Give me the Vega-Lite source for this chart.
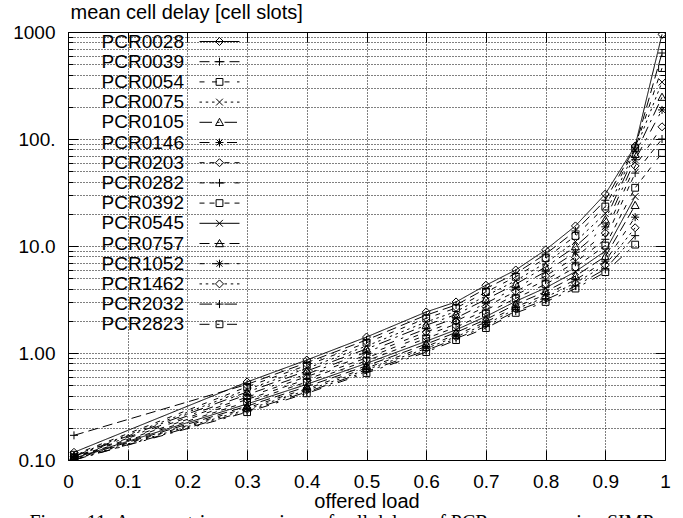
{
  "$schema": "https://vega.github.io/schema/vega-lite/v6.json",
  "width": 597,
  "height": 428,
  "autosize": {"type": "none"},
  "padding": {"left": 68, "top": 32, "right": 18, "bottom": 58},
  "background": "white",
  "config": {
    "view": {"stroke": "black", "strokeWidth": 1},
    "font": "Liberation Sans",
    "axis": {"labelFont": "Liberation Sans", "titleFont": "Liberation Sans", "labelColor": "black", "titleColor": "black", "tickColor": "black", "labelFontSize": 19, "titleFontSize": 20, "titleFontWeight": "normal", "domain": false, "labelOverlap": false, "labelBound": false, "labelFlush": false}
  },
  "title": {"text": "Figure 11: Asymmetric comparison of cell delays of PCR sources using SIMP", "orient": "bottom", "anchor": "middle", "font": "Liberation Serif", "fontSize": 20, "fontWeight": "normal", "color": "black", "offset": 2, "frame": "bounds"},
  "data": {"values": [
    {"s":"PCR0028","x":0.01,"y":0.118},{"s":"PCR0028","x":0.3,"y":0.536},{"s":"PCR0028","x":0.4,"y":0.86},{"s":"PCR0028","x":0.5,"y":1.41},{"s":"PCR0028","x":0.6,"y":2.42},{"s":"PCR0028","x":0.65,"y":3.0},{"s":"PCR0028","x":0.7,"y":4.3},{"s":"PCR0028","x":0.75,"y":5.97},{"s":"PCR0028","x":0.8,"y":9.2},{"s":"PCR0028","x":0.85,"y":15.4},{"s":"PCR0028","x":0.9,"y":30.6},{"s":"PCR0028","x":0.95,"y":86},{"s":"PCR0028","x":0.995,"y":950},
    {"s":"PCR0039","x":0.01,"y":0.17},{"s":"PCR0039","x":0.3,"y":0.509},{"s":"PCR0039","x":0.4,"y":0.812},{"s":"PCR0039","x":0.5,"y":1.325},{"s":"PCR0039","x":0.6,"y":2.258},{"s":"PCR0039","x":0.65,"y":2.809},{"s":"PCR0039","x":0.7,"y":3.996},{"s":"PCR0039","x":0.75,"y":5.546},{"s":"PCR0039","x":0.8,"y":8.41},{"s":"PCR0039","x":0.85,"y":13.82},{"s":"PCR0039","x":0.9,"y":26.76},{"s":"PCR0039","x":0.95,"y":84},{"s":"PCR0039","x":0.995,"y":636},
    {"s":"PCR0054","x":0.01,"y":0.112},{"s":"PCR0054","x":0.3,"y":0.483},{"s":"PCR0054","x":0.4,"y":0.767},{"s":"PCR0054","x":0.5,"y":1.246},{"s":"PCR0054","x":0.6,"y":2.107},{"s":"PCR0054","x":0.65,"y":2.631},{"s":"PCR0054","x":0.7,"y":3.711},{"s":"PCR0054","x":0.75,"y":5.15},{"s":"PCR0054","x":0.8,"y":7.69},{"s":"PCR0054","x":0.85,"y":12.41},{"s":"PCR0054","x":0.9,"y":23.38},{"s":"PCR0054","x":0.95,"y":82},{"s":"PCR0054","x":0.995,"y":460},
    {"s":"PCR0075","x":0.01,"y":0.11},{"s":"PCR0075","x":0.3,"y":0.455},{"s":"PCR0075","x":0.4,"y":0.719},{"s":"PCR0075","x":0.5,"y":1.162},{"s":"PCR0075","x":0.6,"y":1.95},{"s":"PCR0075","x":0.65,"y":2.443},{"s":"PCR0075","x":0.7,"y":3.416},{"s":"PCR0075","x":0.75,"y":4.739},{"s":"PCR0075","x":0.8,"y":6.95},{"s":"PCR0075","x":0.85,"y":10.99},{"s":"PCR0075","x":0.9,"y":20.1},{"s":"PCR0075","x":0.95,"y":78},{"s":"PCR0075","x":0.995,"y":340},
    {"s":"PCR0105","x":0.01,"y":0.109},{"s":"PCR0105","x":0.3,"y":0.432},{"s":"PCR0105","x":0.4,"y":0.679},{"s":"PCR0105","x":0.5,"y":1.092},{"s":"PCR0105","x":0.6,"y":1.82},{"s":"PCR0105","x":0.65,"y":2.288},{"s":"PCR0105","x":0.7,"y":3.172},{"s":"PCR0105","x":0.75,"y":4.401},{"s":"PCR0105","x":0.8,"y":6.36},{"s":"PCR0105","x":0.85,"y":9.87},{"s":"PCR0105","x":0.9,"y":17.58},{"s":"PCR0105","x":0.95,"y":72},{"s":"PCR0105","x":0.995,"y":246},
    {"s":"PCR0146","x":0.01,"y":0.108},{"s":"PCR0146","x":0.3,"y":0.408},{"s":"PCR0146","x":0.4,"y":0.636},{"s":"PCR0146","x":0.5,"y":1.019},{"s":"PCR0146","x":0.6,"y":1.684},{"s":"PCR0146","x":0.65,"y":2.125},{"s":"PCR0146","x":0.7,"y":2.92},{"s":"PCR0146","x":0.75,"y":4.051},{"s":"PCR0146","x":0.8,"y":5.75},{"s":"PCR0146","x":0.85,"y":8.74},{"s":"PCR0146","x":0.9,"y":15.11},{"s":"PCR0146","x":0.95,"y":64},{"s":"PCR0146","x":0.995,"y":187},
    {"s":"PCR0203","x":0.01,"y":0.107},{"s":"PCR0203","x":0.3,"y":0.387},{"s":"PCR0203","x":0.4,"y":0.601},{"s":"PCR0203","x":0.5,"y":0.957},{"s":"PCR0203","x":0.6,"y":1.571},{"s":"PCR0203","x":0.65,"y":1.99},{"s":"PCR0203","x":0.7,"y":2.712},{"s":"PCR0203","x":0.75,"y":3.761},{"s":"PCR0203","x":0.8,"y":5.25},{"s":"PCR0203","x":0.85,"y":7.85},{"s":"PCR0203","x":0.9,"y":13.21},{"s":"PCR0203","x":0.95,"y":56},{"s":"PCR0203","x":0.995,"y":130},
    {"s":"PCR0282","x":0.01,"y":0.106},{"s":"PCR0282","x":0.3,"y":0.368},{"s":"PCR0282","x":0.4,"y":0.567},{"s":"PCR0282","x":0.5,"y":0.9},{"s":"PCR0282","x":0.6,"y":1.466},{"s":"PCR0282","x":0.65,"y":1.864},{"s":"PCR0282","x":0.7,"y":2.519},{"s":"PCR0282","x":0.75,"y":3.493},{"s":"PCR0282","x":0.8,"y":4.8},{"s":"PCR0282","x":0.85,"y":7.05},{"s":"PCR0282","x":0.9,"y":11.55},{"s":"PCR0282","x":0.95,"y":48},{"s":"PCR0282","x":0.995,"y":100},
    {"s":"PCR0392","x":0.01,"y":0.105},{"s":"PCR0392","x":0.3,"y":0.349},{"s":"PCR0392","x":0.4,"y":0.536},{"s":"PCR0392","x":0.5,"y":0.846},{"s":"PCR0392","x":0.6,"y":1.368},{"s":"PCR0392","x":0.65,"y":1.745},{"s":"PCR0392","x":0.7,"y":2.34},{"s":"PCR0392","x":0.75,"y":3.244},{"s":"PCR0392","x":0.8,"y":4.39},{"s":"PCR0392","x":0.85,"y":6.33},{"s":"PCR0392","x":0.9,"y":10.09},{"s":"PCR0392","x":0.95,"y":35},{"s":"PCR0392","x":0.995,"y":74},
    {"s":"PCR0545","x":0.01,"y":0.104},{"s":"PCR0545","x":0.3,"y":0.334},{"s":"PCR0545","x":0.4,"y":0.51},{"s":"PCR0545","x":0.5,"y":0.801},{"s":"PCR0545","x":0.6,"y":1.288},{"s":"PCR0545","x":0.65,"y":1.648},{"s":"PCR0545","x":0.7,"y":2.193},{"s":"PCR0545","x":0.75,"y":3.042},{"s":"PCR0545","x":0.8,"y":4.06},{"s":"PCR0545","x":0.85,"y":5.76},{"s":"PCR0545","x":0.9,"y":8.97},{"s":"PCR0545","x":0.95,"y":29},
    {"s":"PCR0757","x":0.01,"y":0.103},{"s":"PCR0757","x":0.3,"y":0.319},{"s":"PCR0757","x":0.4,"y":0.485},{"s":"PCR0757","x":0.5,"y":0.759},{"s":"PCR0757","x":0.6,"y":1.212},{"s":"PCR0757","x":0.65,"y":1.556},{"s":"PCR0757","x":0.7,"y":2.056},{"s":"PCR0757","x":0.75,"y":2.851},{"s":"PCR0757","x":0.8,"y":3.75},{"s":"PCR0757","x":0.85,"y":5.24},{"s":"PCR0757","x":0.9,"y":7.98},{"s":"PCR0757","x":0.95,"y":24},
    {"s":"PCR1052","x":0.01,"y":0.102},{"s":"PCR1052","x":0.3,"y":0.307},{"s":"PCR1052","x":0.4,"y":0.464},{"s":"PCR1052","x":0.5,"y":0.724},{"s":"PCR1052","x":0.6,"y":1.151},{"s":"PCR1052","x":0.65,"y":1.481},{"s":"PCR1052","x":0.7,"y":1.946},{"s":"PCR1052","x":0.75,"y":2.698},{"s":"PCR1052","x":0.8,"y":3.51},{"s":"PCR1052","x":0.85,"y":4.83},{"s":"PCR1052","x":0.9,"y":7.21},{"s":"PCR1052","x":0.95,"y":18.6},
    {"s":"PCR1462","x":0.01,"y":0.101},{"s":"PCR1462","x":0.3,"y":0.297},{"s":"PCR1462","x":0.4,"y":0.448},{"s":"PCR1462","x":0.5,"y":0.697},{"s":"PCR1462","x":0.6,"y":1.103},{"s":"PCR1462","x":0.65,"y":1.421},{"s":"PCR1462","x":0.7,"y":1.858},{"s":"PCR1462","x":0.75,"y":2.576},{"s":"PCR1462","x":0.8,"y":3.32},{"s":"PCR1462","x":0.85,"y":4.52},{"s":"PCR1462","x":0.9,"y":6.63},{"s":"PCR1462","x":0.95,"y":14.8},
    {"s":"PCR2032","x":0.01,"y":0.1},{"s":"PCR2032","x":0.3,"y":0.287},{"s":"PCR2032","x":0.4,"y":0.432},{"s":"PCR2032","x":0.5,"y":0.671},{"s":"PCR2032","x":0.6,"y":1.056},{"s":"PCR2032","x":0.65,"y":1.364},{"s":"PCR2032","x":0.7,"y":1.775},{"s":"PCR2032","x":0.75,"y":2.459},{"s":"PCR2032","x":0.8,"y":3.14},{"s":"PCR2032","x":0.85,"y":4.22},{"s":"PCR2032","x":0.9,"y":6.1},{"s":"PCR2032","x":0.95,"y":12.5},
    {"s":"PCR2823","x":0.01,"y":0.1},{"s":"PCR2823","x":0.3,"y":0.28},{"s":"PCR2823","x":0.4,"y":0.42},{"s":"PCR2823","x":0.5,"y":0.65},{"s":"PCR2823","x":0.6,"y":1.02},{"s":"PCR2823","x":0.65,"y":1.32},{"s":"PCR2823","x":0.7,"y":1.71},{"s":"PCR2823","x":0.75,"y":2.37},{"s":"PCR2823","x":0.8,"y":3.0},{"s":"PCR2823","x":0.85,"y":4.0},{"s":"PCR2823","x":0.9,"y":5.7},{"s":"PCR2823","x":0.95,"y":10.3}
  ]},
  "layer": [
    {
      "mark": {"type": "line", "strokeWidth": 1, "color": "black", "clip": true},
      "encoding": {
        "x": {"field": "x", "type": "quantitative", "scale": {"domain": [0, 1], "nice": false, "zero": false},
          "axis": {"orient": "bottom", "values": [0, 0.1, 0.2, 0.3, 0.4, 0.5, 0.6, 0.7, 0.8, 0.9, 1], "labelExpr": "datum.value == 0 ? '0' : datum.value == 1 ? '1' : format(datum.value, '.1f')", "grid": true, "gridDash": [1, 2], "gridColor": "black", "gridOpacity": 1, "tickSize": -10, "labelPadding": 22, "title": "offered load", "titleY": 47, "titleBaseline": "alphabetic"}},
        "y": {"field": "y", "type": "quantitative", "scale": {"type": "log", "domain": [0.1, 1000], "nice": false},
          "axis": {"orient": "left", "values": [0.1,0.2,0.3,0.4,0.5,0.6,0.7,0.8,0.9,1,2,3,4,5,6,7,8,9,10,20,30,40,50,60,70,80,90,100,200,300,400,500,600,700,800,900,1000],
            "labelExpr": "datum.value == 1000 ? '1000' : datum.value == 100 ? '100.' : datum.value == 10 ? '10.0' : datum.value == 1 ? '1.00' : datum.value == 0.1 ? '0.10' : ''",
            "grid": true, "gridDash": [1, 2], "gridColor": "black", "gridOpacity": 1,
            "tickSize": {"condition": {"test": "abs(log(datum.value)/LN10 - round(log(datum.value)/LN10)) < 0.000001", "value": -10}, "value": -5},
            "labelPadding": 23, "title": "mean cell delay [cell slots]", "titleAngle": 0, "titleAlign": "left", "titleX": 2, "titleY": -14, "titleBaseline": "alphabetic"}},
        "detail": {"field": "s"},
        "strokeDash": {"field": "s", "type": "nominal", "legend": null,
          "scale": {"range": [[1,0],[10,5],[5,7.5],[2.5,3.75],[12.5,5,2.5,5],[10,7.5,2.5,7.5],[5,5,5,10],[5,5,5,5,5,10],[5,5,5,5,5,5,5,10],[1,0],[10,5],[5,7.5],[2.5,3.75],[12.5,5,2.5,5],[10,7.5,2.5,7.5]]}}
      }
    },
    {
      "mark": {"type": "point", "filled": false, "stroke": "black", "strokeWidth": 1, "size": 64, "opacity": 1, "clip": true},
      "encoding": {
        "x": {"field": "x", "type": "quantitative",
          "axis": {"orient": "top", "values": [0, 0.1, 0.2, 0.3, 0.4, 0.5, 0.6, 0.7, 0.8, 0.9, 1], "labels": false, "grid": false, "tickSize": -10, "title": null}},
        "y": {"field": "y", "type": "quantitative",
          "axis": {"orient": "right", "values": [0.1,0.2,0.3,0.4,0.5,0.6,0.7,0.8,0.9,1,2,3,4,5,6,7,8,9,10,20,30,40,50,60,70,80,90,100,200,300,400,500,600,700,800,900,1000], "labels": false, "grid": false,
            "tickSize": {"condition": {"test": "abs(log(datum.value)/LN10 - round(log(datum.value)/LN10)) < 0.000001", "value": -10}, "value": -5}, "title": null}},
        "shape": {"field": "s", "type": "nominal", "legend": null,
          "scale": {"range": ["M0,-1L1,0L0,1L-1,0Z","M-1,0H1M0,-1V1","M-0.85,-0.85H0.85V0.85H-0.85Z","M-0.85,-0.85L0.85,0.85M-0.85,0.85L0.85,-0.85","M0,-1L1,0.8H-1Z","M-1,0H1M0,-1V1M-0.75,-0.75L0.75,0.75M-0.75,0.75L0.75,-0.75","M0,-1L1,0L0,1L-1,0Z","M-1,0H1M0,-1V1","M-0.85,-0.85H0.85V0.85H-0.85Z","M-0.85,-0.85L0.85,0.85M-0.85,0.85L0.85,-0.85","M0,-1L1,0.8H-1Z","M-1,0H1M0,-1V1M-0.75,-0.75L0.75,0.75M-0.75,0.75L0.75,-0.75","M0,-1L1,0L0,1L-1,0Z","M-1,0H1M0,-1V1","M-0.85,-0.85H0.85V0.85H-0.85Z"]}}
      }
    },
    {
      "mark": {"type": "point", "filled": false, "stroke": "black", "strokeWidth": 1, "size": 64, "opacity": 0, "clip": true},
      "encoding": {
        "x": {"field": "x", "type": "quantitative", "axis": null},
        "y": {"field": "y", "type": "quantitative", "axis": null},
        "shape": {"field": "s", "type": "nominal",
          "scale": {"range": [
            "M-5,0H5M0,-1L1,0L0,1L-1,0Z",
            "M-5,0H-2.5M-1.25,0H1.25M2.5,0H5M-1,0H1M0,-1V1",
            "M-5,0H-3.75M-1.875,0H-0.625M1.25,0H2.5M4.375,0H5M-0.85,-0.85H0.85V0.85H-0.85Z",
            "M-5,0H-4.375M-3.4375,0H-2.8125M-1.875,0H-1.25M1.25,0H1.875M2.8125,0H3.4375M4.375,0H5M-0.85,-0.85L0.85,0.85M-0.85,0.85L0.85,-0.85",
            "M-5,0H-1.875M-0.625,0H0M1.25,0H4.375M0,-1L1,0.8H-1Z",
            "M-5,0H-2.5M-0.625,0H0M1.875,0H4.375M-1,0H1M0,-1V1M-0.75,-0.75L0.75,0.75M-0.75,0.75L0.75,-0.75",
            "M-5,0H-3.75M-2.5,0H-1.25M1.25,0H2.5M3.75,0H5M0,-1L1,0L0,1L-1,0Z",
            "M-5,0H-3.75M-2.5,0H-1.25M0,0H1.25M3.75,0H5M-1,0H1M0,-1V1",
            "M-5,0H-3.75M-2.5,0H-1.25M1.25,0H2.5M3.75,0H5M-0.85,-0.85H0.85V0.85H-0.85Z",
            "M-5,0H5M-0.85,-0.85L0.85,0.85M-0.85,0.85L0.85,-0.85",
            "M-5,0H-2.5M-1.25,0H1.25M2.5,0H5M0,-1L1,0.8H-1Z",
            "M-5,0H-3.75M-1.875,0H-0.625M1.25,0H2.5M4.375,0H5M-1,0H1M0,-1V1M-0.75,-0.75L0.75,0.75M-0.75,0.75L0.75,-0.75",
            "M-5,0H-4.375M-3.4375,0H-2.8125M-1.875,0H-1.25M1.25,0H1.875M2.8125,0H3.4375M4.375,0H5M0,-1L1,0L0,1L-1,0Z",
            "M-5,0H-1.875M-0.625,0H0M1.25,0H4.375M-1,0H1M0,-1V1",
            "M-5,0H-2.5M-0.625,0H0M1.875,0H4.375M-0.85,-0.85H0.85V0.85H-0.85Z"]},
          "legend": {"orient": "none", "legendX": 142, "legendY": 0, "title": null, "padding": 0, "labelAlign": "right", "labelOffset": -45, "labelFont": "Liberation Sans", "labelFontSize": 19, "labelColor": "black", "labelLimit": 300, "symbolSize": 64, "rowPadding": 0.2, "symbolStrokeWidth": 1, "symbolOpacity": 1, "symbolStrokeColor": "black", "symbolFillColor": "transparent"}
        }
      }
    }
  ],
  "resolve": {"scale": {"shape": "independent"}, "axis": {"x": "independent", "y": "independent"}}
}
